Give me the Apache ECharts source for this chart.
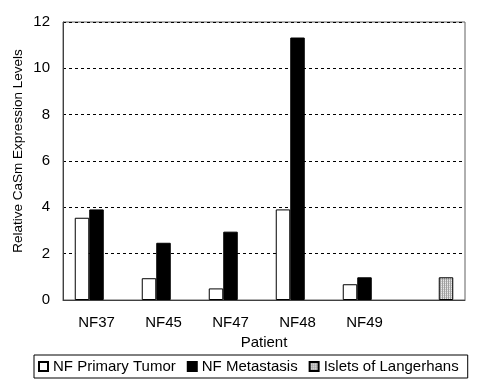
<!DOCTYPE html>
<html><head><meta charset="utf-8">
<script src="https://cdn.jsdelivr.net/npm/echarts@6/dist/echarts.min.js"></script>
<style>html,body{margin:0;padding:0;background:#fff}#c{width:481px;height:386px}</style>
</head><body><div id="c"></div>
<script>
const categories = ['NF37','NF45','NF47','NF48','NF49',''];
const primaryTumor = [3.55, 0.94, 0.50, 3.91, 0.68, null];
const metastasis = [3.91, 2.47, 2.95, 11.33, 0.98, null];
const islets = [null, null, null, null, null, 0.98];
const yTicks = [0, 2, 4, 6, 8, 10, 12];

function makePattern(){
  const c = document.createElement('canvas');
  c.width = 2; c.height = 2;
  const ctx = c.getContext('2d');
  ctx.fillStyle = '#e8e8e8'; ctx.fillRect(0,0,2,2);
  ctx.fillStyle = '#a0a0a0'; ctx.fillRect(0,0,1,2);
  ctx.fillStyle = '#c8c8c8'; ctx.fillRect(1,1,1,1);
  return c;
}
const pat = {image: makePattern(), repeat: 'repeat'};
const font = 'Liberation Sans, Arial, sans-serif';
const chart = echarts.init(document.getElementById('c'), null, {renderer:'canvas'});
chart.setOption({
  animation: false,
  backgroundColor: '#fff',
  textStyle: {fontFamily: font},
  grid: {left: 63, top: 22, right: 16, bottom: 86, show: true, borderColor: '#606060', borderWidth: 1},
  legend: {
    left: 34, top: 355, borderColor: '#000', borderWidth: 1, padding: [4, 9, 4, 4],
    itemWidth: 9, itemHeight: 9, itemGap: 11, icon: 'rect',
    textStyle: {fontSize: 15, color: '#000', fontFamily: font}
  },
  xAxis: {
    type: 'category', data: categories,
    name: 'Patient', nameLocation: 'middle', nameGap: 32,
    nameTextStyle: {fontSize: 15, color: '#000'},
    axisLine: {lineStyle: {color: '#404040'}},
    axisTick: {inside: true, length: 4, lineStyle: {color: '#000'}},
    axisLabel: {fontSize: 15, color: '#000', margin: 15}
  },
  yAxis: {
    type: 'value', min: yTicks[0], max: yTicks[yTicks.length-1], interval: 2,
    axisLine: {show: true, lineStyle: {color: '#404040'}},
    axisTick: {show: false},
    axisLabel: {fontSize: 15, color: '#000', margin: 13},
    splitLine: {lineStyle: {color: '#000', type: [3, 3], width: 1}}
  },
  graphic: [{type: 'text', x: 18, y: 151, rotation: Math.PI/2,
    style: {text: 'Relative CaSm Expression Levels', fontSize: 13.5, fontFamily: font, fill: '#000', align: 'center', verticalAlign: 'middle'}}],
  series: [
    {name: 'NF Primary Tumor', type: 'bar', data: primaryTumor, barWidth: 14.5, barGap: '0%',
     itemStyle: {color: '#fff', borderColor: '#000', borderWidth: 1}},
    {name: 'NF Metastasis', type: 'bar', data: metastasis, barWidth: 14.5, barGap: '0%',
     itemStyle: {color: '#000', borderColor: '#000', borderWidth: 1}},
    {name: 'Islets of Langerhans', type: 'bar', data: islets, barWidth: 14.5, barGap: '0%',
     itemStyle: {color: pat, borderColor: '#000', borderWidth: 1}}
  ]
});
</script></body></html>
